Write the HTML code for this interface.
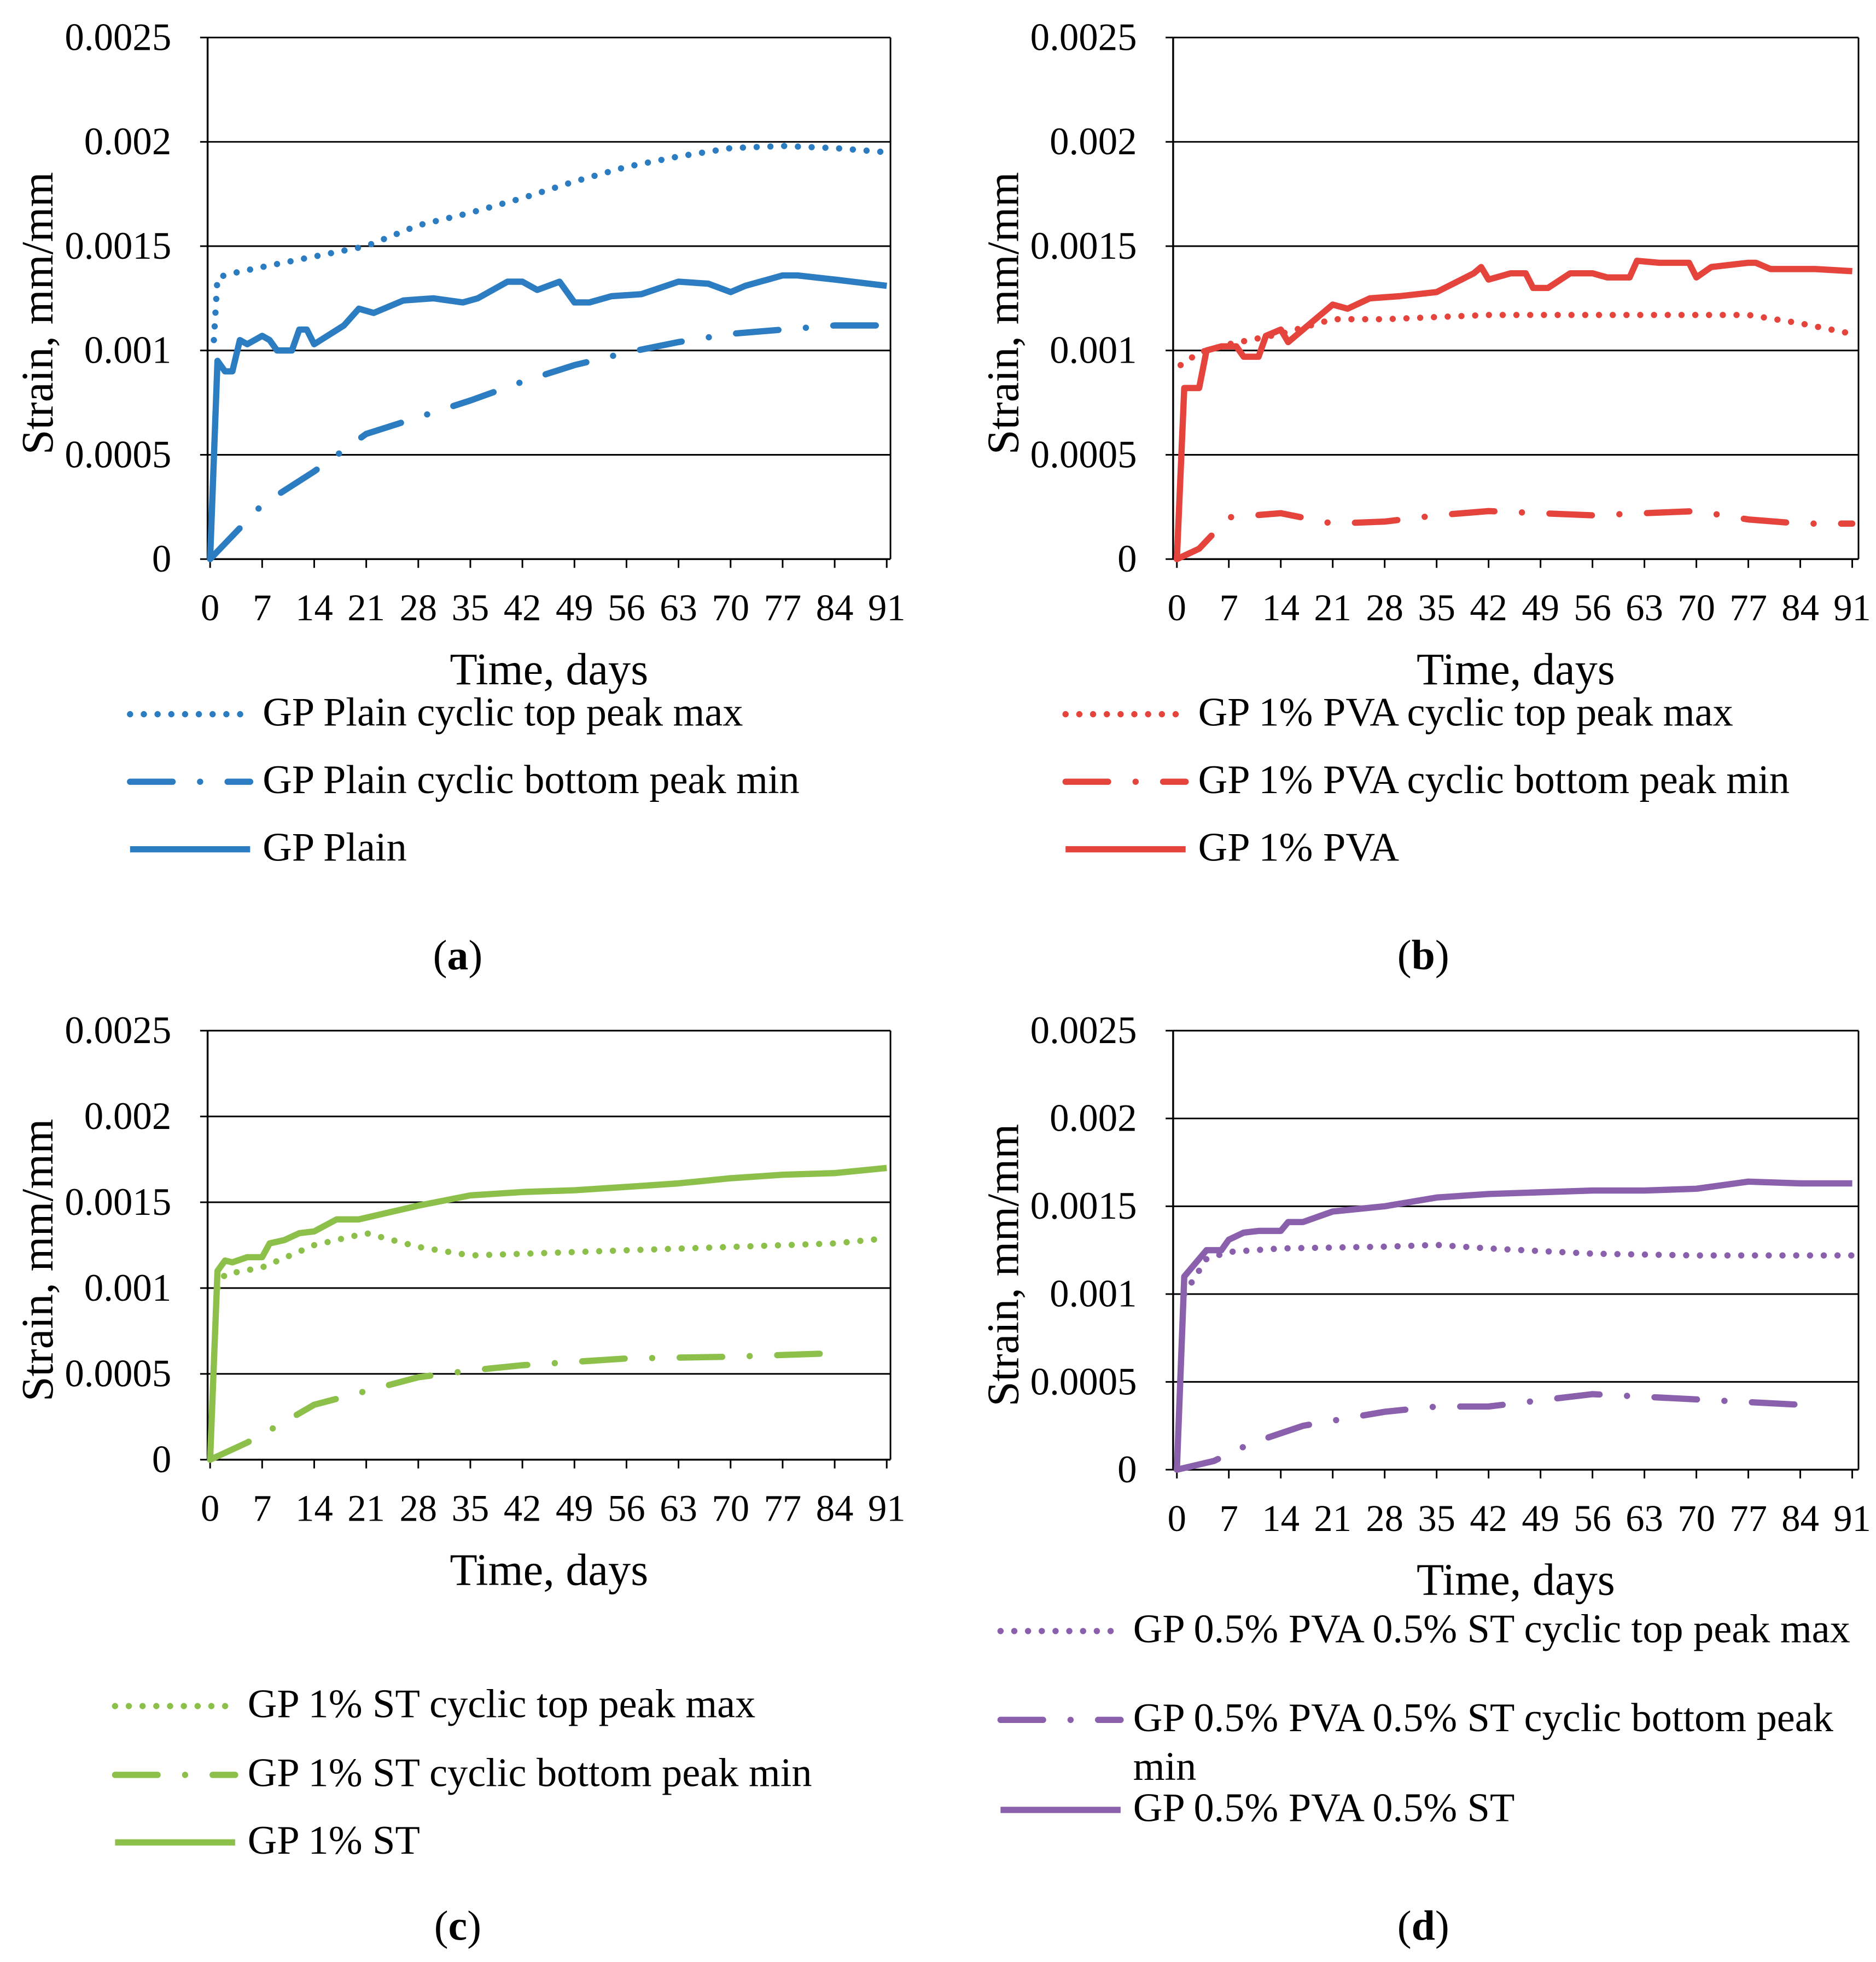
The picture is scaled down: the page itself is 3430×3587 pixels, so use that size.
<!DOCTYPE html>
<html><head><meta charset="utf-8"><style>
html,body{margin:0;padding:0;background:#fff}
svg{display:block}
text{font-family:"Liberation Serif",serif;fill:#000}
</style></head><body>
<svg id="fig" width="3430" height="3587" viewBox="0 0 1500 1568.6" preserveAspectRatio="none" xmlns="http://www.w3.org/2000/svg"></svg>
<script>
const xTicks=[0,7,14,21,28,35,42,49,56,63,70,77,84,91];
const yTicks=[0,0.0005,0.001,0.0015,0.002,0.0025];
const yTickLabels=["0","0.0005","0.001","0.0015","0.002","0.0025"];
// Panel a
const aTopDays=[0.5,1,3,7,14,21,28,35,42,49,56,63,70,77,84,91];
const aTopVals=[0.00105,0.00135,0.00137,0.0014,0.00145,0.0015,0.0016,0.00166,0.00173,0.00181,0.00188,0.00193,0.00197,0.00198,0.00197,0.00195];
const aBotDays=[0,7,14,21,28,35,42,49,56,63,70,77,84,91];
const aBotVals=[0,0.00026,0.00042,0.0006,0.00068,0.00076,0.00085,0.00093,0.00099,0.00104,0.00108,0.0011,0.00112,0.00112];
const aSolDays=[0,1,2,3,4,5,7,8,9,11,12,13,14,18,20,22,26,30,34,36,40,42,44,47,49,51,54,58,63,67,70,72,77,79,84,91];
const aSolVals=[0,0.00095,0.0009,0.0009,0.00105,0.00103,0.00107,0.00105,0.001,0.001,0.0011,0.0011,0.00103,0.00112,0.0012,0.00118,0.00124,0.00125,0.00123,0.00125,0.00133,0.00133,0.00129,0.00133,0.00123,0.00123,0.00126,0.00127,0.00133,0.00132,0.00128,0.00131,0.00136,0.00136,0.00134,0.00131];
// Panel b
const bTopDays=[0.5,3,7,14,21,28,42,56,63,70,77,84,91];
const bTopVals=[0.00093,0.00099,0.00103,0.00108,0.00115,0.00115,0.00117,0.00117,0.00117,0.00117,0.00117,0.00113,0.00108];
const bBotDays=[0,3,7,14,21,28,35,42,49,56,63,70,77,84,91];
const bBotVals=[0,0.00005,0.0002,0.00022,0.00017,0.00018,0.00021,0.00023,0.00022,0.00021,0.00022,0.00023,0.00019,0.00017,0.00017];
const bSolDays=[0,1,3,4,6,8,9,11,12,14,15,17,21,23,26,30,35,40,41,42,45,47,48,50,53,56,58,61,62,65,69,70,72,77,78,80,86,91];
const bSolVals=[0,0.00082,0.00082,0.001,0.00102,0.00102,0.00097,0.00097,0.00107,0.0011,0.00104,0.0011,0.00122,0.0012,0.00125,0.00126,0.00128,0.00137,0.0014,0.00134,0.00137,0.00137,0.0013,0.0013,0.00137,0.00137,0.00135,0.00135,0.00143,0.00142,0.00142,0.00135,0.0014,0.00142,0.00142,0.00139,0.00139,0.00138];
// Panel c
const cTopDays=[1,2,7,14,21,28,35,42,56,70,84,91];
const cTopVals=[0.001,0.00108,0.00112,0.00125,0.00132,0.00124,0.00119,0.0012,0.00122,0.00124,0.00126,0.00129];
const cBotDays=[0,5,10,14,21,28,35,42,56,70,84];
const cBotVals=[0,0.0001,0.00022,0.00032,0.0004,0.00048,0.00052,0.00055,0.00059,0.0006,0.00062];
const cSolDays=[0,1,2,3,5,7,8,10,12,14,17,20,28,35,42,49,56,63,70,77,84,91];
const cSolVals=[0,0.0011,0.00116,0.00115,0.00118,0.00118,0.00126,0.00128,0.00132,0.00133,0.0014,0.0014,0.00148,0.00154,0.00156,0.00157,0.00159,0.00161,0.00164,0.00166,0.00167,0.0017];
// Panel d
const dTopDays=[1,4,7,14,28,35,42,56,70,84,91];
const dTopVals=[0.001,0.0012,0.00124,0.00126,0.00127,0.00128,0.00126,0.00123,0.00122,0.00122,0.00122];
const dBotDays=[0,5,10,17,28,35,42,56,70,84];
const dBotVals=[0,0.00005,0.00015,0.00025,0.00033,0.00036,0.00036,0.00043,0.0004,0.00037];
const dSolDays=[0,1,3,4,6,7,9,11,14,15,17,21,28,35,42,49,56,63,70,77,84,91];
const dSolVals=[0,0.0011,0.0012,0.00125,0.00125,0.00131,0.00135,0.00136,0.00136,0.00141,0.00141,0.00147,0.0015,0.00155,0.00157,0.00158,0.00159,0.00159,0.0016,0.00164,0.00163,0.00163];

const NS="http://www.w3.org/2000/svg";
const svg=document.getElementById('fig');
function mk(tag,attrs,parent){const e=document.createElementNS(NS,tag);for(const k in attrs)e.setAttribute(k,attrs[k]);(parent||svg).appendChild(e);return e;}
const DOT={"stroke-dasharray":"0 11","stroke-linecap":"round","stroke-width":5};
const DASHDOT={"stroke-dasharray":"34 22 0 22","stroke-linecap":"round","stroke-width":5};
const SOLID={"stroke-width":5,"stroke-linejoin":"round"};

function panel(id,P){
  const g=mk('g',{});
  
  
  const X=d=>P.x0+(d/91)*(P.x91-P.x0);
  const Y=v=>P.yb+(v/0.0025)*(P.yt-P.yb);
  yTicks.forEach((t,i)=>{
    if(i>0){const l=mk('line',{x1:P.l,x2:P.r,y1:Y(t),y2:Y(t),stroke:'#000','stroke-width':1.3},g);
    
    }
    const tx=mk('text',{x:P.l-29,y:Y(t)+10,'font-size':31,'text-anchor':'end'},g);
    tx.textContent=yTickLabels[i];
    
    
    mk('line',{x1:P.l-6,x2:P.l,y1:Y(t),y2:Y(t),stroke:'#000','stroke-width':1.3},g);
  });
  mk('line',{x1:P.l,x2:P.l,y1:P.yt,y2:P.yb,stroke:'#000','stroke-width':1.5},g);
  mk('line',{x1:P.r,x2:P.r,y1:P.yt,y2:P.yb,stroke:'#000','stroke-width':1.3},g);
  mk('line',{x1:P.l,x2:P.r,y1:P.yb,y2:P.yb,stroke:'#000','stroke-width':1.5},g);
  xTicks.forEach(t=>{
    mk('line',{x1:X(t),x2:X(t),y1:P.yb,y2:P.yb+7,stroke:'#000','stroke-width':1.3},g);
    const tx=mk('text',{x:X(t),y:P.yb+49,'font-size':30,'text-anchor':'middle'},g);
    tx.textContent=String(t);
    
    
  });
  const xt=mk('text',{x:(P.l+P.r)/2,y:P.yb+100,'font-size':36,'text-anchor':'middle'},g);
  xt.textContent='Time, days';
  
  
  const yc=(P.yt+P.yb)/2+12;
  const yt=mk('text',{x:0,y:0,'font-size':36,'text-anchor':'middle',transform:`translate(${P.l-124},${yc}) rotate(-90)`},g);
  yt.textContent='Strain, mm/mm';
  
  
  const series=[[P.top,DOT,'series-top-peak-max'],[P.bot,DASHDOT,'series-bottom-peak-min'],[P.sol,SOLID,'series-main']];
  series.forEach(([s,st,nm])=>{
    const pts=s[0].map((d,i)=>X(d).toFixed(1)+','+Y(s[1][i]).toFixed(1)).join(' ');
    const pl=mk('polyline',Object.assign({points:pts,fill:'none',stroke:P.color},st),g);
    
    
  });
  P.leg.forEach((lg,i)=>{
    const st=[DOT,DASHDOT,SOLID][i];
    mk('line',Object.assign({x1:P.lx,x2:P.lx+96,y1:lg.y-9,y2:lg.y-9,stroke:P.color},st),g);
    lg.lines.forEach((ln,j)=>{
      const t=mk('text',{x:P.lx+106,y:lg.y+j*39,'font-size':32.5,'xml:space':'preserve'},g);
      t.textContent=ln;
      
      
    });
  });
  const cap=mk('text',{x:P.capx,y:P.capy,'font-size':34,'text-anchor':'middle'},g);
  cap.innerHTML='(<tspan font-weight="bold">'+id+'</tspan>)';
  
  
}
panel('a',{l:166,r:712,x0:168,x91:709,yt:30,yb:447,color:'#2B7CC0',top:[aTopDays,aTopVals],bot:[aBotDays,aBotVals],sol:[aSolDays,aSolVals],lx:104,
  leg:[{y:580,lines:['GP Plain cyclic top peak max']},{y:634,lines:['GP Plain cyclic bottom peak min']},{y:688,lines:['GP Plain']}],capx:366,capy:775});
panel('b',{l:938,r:1486,x0:941,x91:1481,yt:30,yb:447,color:'#E5443C',top:[bTopDays,bTopVals],bot:[bBotDays,bBotVals],sol:[bSolDays,bSolVals],lx:852,
  leg:[{y:580,lines:['GP 1% PVA  cyclic top peak max']},{y:634,lines:['GP 1% PVA  cyclic bottom peak min']},{y:688,lines:['GP 1% PVA']}],capx:1138,capy:775});
panel('c',{l:166,r:712,x0:168,x91:709,yt:824,yb:1167,color:'#8CC04B',top:[cTopDays,cTopVals],bot:[cBotDays,cBotVals],sol:[cSolDays,cSolVals],lx:92,
  leg:[{y:1373,lines:['GP 1% ST cyclic top peak max']},{y:1428,lines:['GP 1% ST cyclic bottom peak min']},{y:1482,lines:['GP 1% ST']}],capx:366,capy:1551});
panel('d',{l:938,r:1486,x0:941,x91:1481,yt:824,yb:1175,color:'#8A5FAC',top:[dTopDays,dTopVals],bot:[dBotDays,dBotVals],sol:[dSolDays,dSolVals],lx:800,
  leg:[{y:1313,lines:['GP 0.5% PVA  0.5% ST cyclic top peak max']},{y:1384,lines:['GP 0.5% PVA  0.5% ST cyclic bottom peak','min']},{y:1456,lines:['GP 0.5% PVA  0.5% ST']}],capx:1138,capy:1551});
</script>
</body></html>
